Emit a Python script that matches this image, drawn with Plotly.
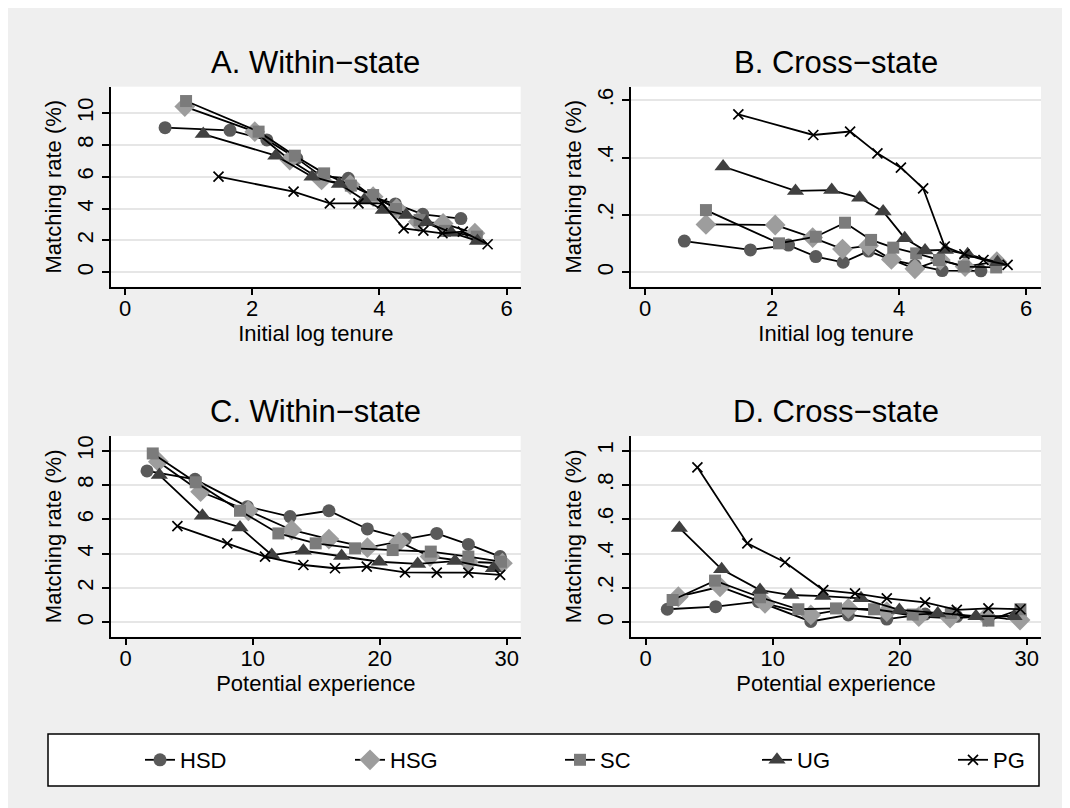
import plotly.graph_objects as go

OFF = 8            # page body margin offset of the rendered figure
W, H = 1070 - OFF, 808 - OFF

groups = ["HSD", "HSG", "SC", "UG", "PG"]

# Panel A: within-state by initial log tenure
a_hsd_x = [0.63, 1.65, 2.23, 2.70, 3.08, 3.51, 3.90, 4.25, 4.68, 5.28]
a_hsd_y = [9.08, 8.91, 8.31, 7.15, 6.05, 5.90, 4.70, 4.29, 3.64, 3.37]
a_hsg_x = [0.94, 2.04, 2.59, 3.09, 3.54, 3.90, 4.27, 4.61, 5.00, 5.50]
a_hsg_y = [10.4, 8.83, 7.05, 5.80, 5.50, 4.75, 4.00, 3.18, 3.07, 2.45]
a_sc_x = [0.96, 2.10, 2.67, 3.13, 3.55, 3.90, 4.26, 4.63, 5.03, 5.53]
a_sc_y = [10.75, 8.83, 7.32, 6.21, 5.44, 4.85, 3.97, 3.28, 2.60, 2.24]
a_ug_x = [1.23, 2.37, 2.94, 3.37, 3.76, 4.06, 4.42, 4.74, 5.13, 5.54]
a_ug_y = [8.68, 7.32, 6.00, 5.54, 4.54, 3.91, 3.60, 3.14, 2.49, 1.97]
a_pg_x = [1.47, 2.65, 3.22, 3.67, 4.04, 4.38, 4.69, 4.99, 5.31, 5.70]
a_pg_y = [6.00, 5.06, 4.33, 4.33, 4.33, 2.76, 2.62, 2.45, 2.55, 1.76]

# Panel B: cross-state by initial log tenure
b_hsd_x = [0.62, 1.66, 2.26, 2.69, 3.12, 3.52, 3.88, 4.25, 4.68, 5.29]
b_hsd_y = [0.109, 0.078, 0.095, 0.055, 0.035, 0.074, 0.043, 0.025, 0.006, 0.005]
b_hsg_x = [0.96, 2.05, 2.64, 3.11, 3.52, 3.88, 4.25, 4.65, 5.04, 5.54]
b_hsg_y = [0.167, 0.165, 0.121, 0.081, 0.093, 0.045, 0.012, 0.043, 0.020, 0.037]
b_sc_x = [0.96, 2.11, 2.69, 3.15, 3.56, 3.91, 4.27, 4.63, 5.02, 5.53]
b_sc_y = [0.217, 0.101, 0.124, 0.173, 0.113, 0.086, 0.066, 0.043, 0.020, 0.017]
b_ug_x = [1.23, 2.37, 2.94, 3.38, 3.75, 4.09, 4.41, 4.73, 5.08, 5.55]
b_ug_y = [0.369, 0.284, 0.287, 0.260, 0.212, 0.119, 0.076, 0.078, 0.063, 0.035]
b_pg_x = [1.47, 2.65, 3.23, 3.66, 4.03, 4.38, 4.72, 5.03, 5.33, 5.71]
b_pg_y = [0.551, 0.479, 0.491, 0.415, 0.365, 0.293, 0.090, 0.063, 0.043, 0.026]

# Panel C: within-state by potential experience
c_hsd_x = [1.68, 5.46, 9.58, 12.94, 16.0, 19.03, 22.02, 24.49, 26.98, 29.48]
c_hsd_y = [8.82, 8.33, 6.74, 6.16, 6.50, 5.44, 4.85, 5.18, 4.54, 3.83]
c_hsg_x = [2.57, 5.90, 9.66, 13.07, 16.0, 19.03, 21.52, 23.96, 26.98, 29.66]
c_hsg_y = [9.36, 7.61, 6.50, 5.38, 4.85, 4.35, 4.70, 3.83, 3.53, 3.44]
c_sc_x = [2.13, 5.51, 9.0, 12.02, 14.96, 18.06, 21.02, 24.02, 26.98, 29.55]
c_sc_y = [9.84, 8.16, 6.50, 5.18, 4.60, 4.31, 4.21, 4.12, 3.83, 3.53]
c_ug_x = [2.65, 6.04, 9.0, 11.5, 13.99, 17.0, 19.97, 22.99, 25.93, 28.95]
c_ug_y = [8.58, 6.21, 5.53, 3.92, 4.17, 3.86, 3.53, 3.40, 3.57, 3.15]
c_pg_x = [4.07, 8.0, 10.97, 13.99, 16.48, 18.98, 21.99, 24.49, 26.98, 29.48]
c_pg_y = [5.61, 4.60, 3.83, 3.34, 3.15, 3.24, 2.91, 2.89, 2.89, 2.76]

# Panel D: cross-state by potential experience
d_hsd_x = [1.70, 5.51, 8.87, 13.0, 15.95, 18.98, 22.0, 24.49, 26.98, 29.48]
d_hsd_y = [0.076, 0.091, 0.120, 0.005, 0.043, 0.019, 0.048, 0.035, 0.030, 0.040]
d_hsg_x = [2.57, 5.85, 9.39, 13.0, 15.95, 18.98, 21.5, 23.96, 26.85, 29.47]
d_hsg_y = [0.149, 0.207, 0.110, 0.043, 0.081, 0.062, 0.033, 0.025, 0.033, 0.013]
d_sc_x = [2.12, 5.46, 9.0, 12.02, 14.98, 17.98, 21.02, 24.02, 26.98, 29.5]
d_sc_y = [0.130, 0.243, 0.146, 0.076, 0.081, 0.076, 0.045, 0.055, 0.010, 0.076]
d_ug_x = [2.65, 5.98, 9.0, 11.44, 13.94, 16.95, 19.97, 22.99, 26.0, 29.0]
d_ug_y = [0.550, 0.309, 0.188, 0.159, 0.153, 0.140, 0.072, 0.052, 0.036, 0.036]
d_pg_x = [4.07, 8.0, 10.97, 13.98, 16.48, 18.98, 22.0, 24.49, 26.98, 29.5]
d_pg_y = [0.903, 0.460, 0.350, 0.188, 0.169, 0.140, 0.116, 0.072, 0.081, 0.076]

titles = ["A. Within\u2212state", "B. Cross\u2212state", "C. Within\u2212state", "D. Cross\u2212state"]
x_titles = ["Initial log tenure", "Initial log tenure", "Potential experience", "Potential experience"]
y_title = "Matching rate (%)"

tenure_ticks = [0, 2, 4, 6]
exper_ticks = [0, 10, 20, 30]
a_yticks = [0, 2, 4, 6, 8, 10]
b_yticks = [0, 0.2, 0.4, 0.6]
b_ytext = ["0", ".2", ".4", ".6"]
c_yticks = [0, 2, 4, 6, 8, 10]
d_yticks = [0, 0.2, 0.4, 0.6, 0.8, 1.0]
d_ytext = ["0", ".2", ".4", ".6", ".8", "1"]

panels = [
    [(a_hsd_x, a_hsd_y), (a_hsg_x, a_hsg_y), (a_sc_x, a_sc_y), (a_ug_x, a_ug_y), (a_pg_x, a_pg_y)],
    [(b_hsd_x, b_hsd_y), (b_hsg_x, b_hsg_y), (b_sc_x, b_sc_y), (b_ug_x, b_ug_y), (b_pg_x, b_pg_y)],
    [(c_hsd_x, c_hsd_y), (c_hsg_x, c_hsg_y), (c_sc_x, c_sc_y), (c_ug_x, c_ug_y), (c_pg_x, c_pg_y)],
    [(d_hsd_x, d_hsd_y), (d_hsg_x, d_hsg_y), (d_sc_x, d_sc_y), (d_ug_x, d_ug_y), (d_pg_x, d_pg_y)],
]

styles = {
    "HSD": dict(symbol="circle", size=13, color="#5a5a5a"),
    "HSG": dict(symbol="diamond", size=16, color="#9d9d9d"),
    "SC": dict(symbol="square", size=12, color="#7b7b7b"),
    "UG": dict(symbol="triangle-up", size=15, color="#404040"),
    "PG": dict(symbol="x-thin-open", size=10, color="#000000"),
}

FONT = "Liberation Sans, Arial, Helvetica, sans-serif"

fig = go.Figure()

# pixel geometry of plot regions (page pixels)
px_x = [(111, 520.7), (631, 1041), (111, 520.7), (631, 1041)]
px_y = [(86.7, 286.7), (86.7, 286.7), (436, 636.7), (436, 636.7)]
x_ranges = [[-0.22, 6.22], [-0.2205, 6.236], [-1.157, 31.1], [-1.157, 31.12]]
y_ranges = [[-0.904, 11.65], [-0.0502, 0.6474], [-0.839, 10.857], [-0.0839, 1.0857]]
xtick_sets = [tenure_ticks, tenure_ticks, exper_ticks, exper_ticks]
ytick_sets = [(a_yticks, [str(v) for v in a_yticks]), (b_yticks, b_ytext),
              (c_yticks, [str(v) for v in c_yticks]), (d_yticks, d_ytext)]

legend_keys = ["legend", "legend2", "legend3", "legend4", "legend5"]
legend_text_px = [185, 395, 605, 802, 998]   # page x where each legend label starts

for p in range(4):
    xa = "x" if p == 0 else f"x{p+1}"
    ya = "y" if p == 0 else f"y{p+1}"
    for gi, (g, (xs, ys)) in enumerate(zip(groups, panels[p])):
        st = styles[g]
        if g == "PG":
            marker = dict(symbol=st["symbol"], size=st["size"], color=st["color"],
                          line=dict(color="#000000", width=1.7))
        else:
            marker = dict(symbol=st["symbol"], size=st["size"], color=st["color"],
                          line=dict(width=0))
        fig.add_trace(go.Scatter(
            x=xs, y=ys, mode="lines+markers", name=g,
            line=dict(color="#000000", width=1.8),
            marker=marker, showlegend=(p == 0), legendgroup=g,
            legend=legend_keys[gi],
            xaxis=xa, yaxis=ya, cliponaxis=False,
        ))

    xd = [(px_x[p][0] - OFF) / W, (px_x[p][1] - OFF) / W]
    yd = [1 - (px_y[p][1] - OFF) / H, 1 - (px_y[p][0] - OFF) / H]
    axis_common = dict(showline=True, linecolor="black", linewidth=1.5,
                       ticks="outside", ticklen=7, tickwidth=1.5, tickcolor="black",
                       tickfont=dict(family=FONT, size=22, color="black"),
                       zeroline=False, automargin=False)
    xkey = "xaxis" if p == 0 else f"xaxis{p+1}"
    ykey = "yaxis" if p == 0 else f"yaxis{p+1}"
    fig.update_layout(**{
        xkey: dict(domain=xd, range=x_ranges[p], anchor=ya, tickvals=xtick_sets[p],
                   showgrid=False, ticklabelstandoff=-6,
                   title=dict(text=x_titles[p], font=dict(family=FONT, size=22, color="black"),
                              standoff=2),
                   **axis_common),
        ykey: dict(domain=yd, range=y_ranges[p], anchor=xa, tickvals=ytick_sets[p][0],
                   ticktext=ytick_sets[p][1], tickangle=-90,
                   showgrid=True, gridcolor="#e6e6e6", gridwidth=1.5,
                   title=dict(text=y_title, font=dict(family=FONT, size=22, color="black"),
                              standoff=6),
                   **axis_common),
    })
    fig.add_annotation(text=titles[p], xref="paper", yref="paper",
                       x=(xd[0] + xd[1]) / 2, y=yd[1] + 5 / H,
                       xanchor="center", yanchor="bottom", showarrow=False,
                       font=dict(family=FONT, size=31, color="black"))

legend_layouts = {}
for key, tx in zip(legend_keys, legend_text_px):
    legend_layouts[key] = dict(
        orientation="h", x=(tx - OFF - 45) / W, y=1 - (760 - OFF) / H,
        xanchor="left", yanchor="middle",
        bgcolor="rgba(0,0,0,0)", borderwidth=0,
        font=dict(family=FONT, size=22, color="black"), itemwidth=30,
    )

fig.update_layout(
    width=W, height=H,
    margin=dict(l=0, r=0, t=0, b=0),
    paper_bgcolor="#efefef",
    plot_bgcolor="white",
    font=dict(family=FONT, color="black"),
    showlegend=True,
    shapes=[
        dict(type="rect", xref="paper", yref="paper", x0=(48 - OFF) / W, x1=(1039 - OFF) / W,
             y0=1 - (786 - OFF) / H, y1=1 - (734 - OFF) / H,
             fillcolor="white", line=dict(color="black", width=1.5), layer="below"),
    ],
    **legend_layouts,
)

fig.write_html("out.html")
